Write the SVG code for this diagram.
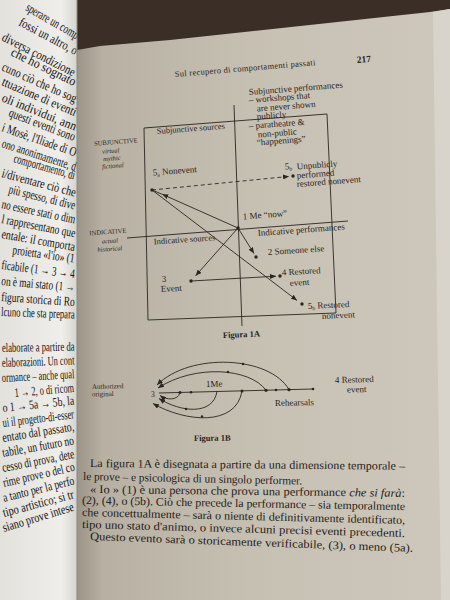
<svg xmlns="http://www.w3.org/2000/svg" width="450" height="600" viewBox="0 0 450 600">
<defs>
<linearGradient id="pg" x1="0" y1="0" x2="1" y2="0">
<stop offset="0" stop-color="#9c9587"/>
<stop offset="0.07" stop-color="#b8b1a3"/>
<stop offset="0.5" stop-color="#c7c1b4"/>
<stop offset="1" stop-color="#cec8bc"/>
</linearGradient>
<linearGradient id="lp" x1="0" y1="0" x2="1" y2="0">
<stop offset="0" stop-color="#e2e1dc"/>
<stop offset="0.8" stop-color="#efeeea"/>
<stop offset="1" stop-color="#d6d4ce"/>
</linearGradient>
<marker id="ah" viewBox="0 0 6 5" refX="6" refY="2.5" markerWidth="6" markerHeight="5" markerUnits="userSpaceOnUse" orient="auto"><path d="M0,0 L6,2.5 L0,5 z" fill="#2a2520"/></marker>
<marker id="am" viewBox="0 0 6 5" refX="3" refY="2.5" markerWidth="6" markerHeight="5" markerUnits="userSpaceOnUse" orient="auto"><path d="M0,0 L6,2.5 L0,5 z" fill="#2a2520"/></marker>
</defs>
<style>
.ln{stroke:#2a2520;stroke-width:0.9;fill:none}
.dot{fill:#2a2520}
.lab{font-family:"Liberation Serif",serif;font-size:9px;fill:#2a2520}
.sm{font-size:6.5px}
.it{font-style:italic}
.cap{font-weight:bold;font-size:8.5px}
.body{font-family:"Liberation Serif",serif;font-size:11.5px;fill:#1f1b18}
.lt{font-family:"Liberation Serif",serif;font-size:13px;fill:#141210}
</style>

<!-- background -->
<rect x="77" y="0" width="373" height="600" fill="url(#pg)"/>
<polygon points="77,0 450,0 450,9 430,12 170,40 100,46 77,50" fill="#3a2e26"/>
<polygon points="433,12 450,9 450,600 441,600" fill="#d9d4cb"/>
<rect x="0" y="0" width="77" height="600" fill="url(#lp)"/>

<!-- left page text (cut by the spine) -->
<g id="left-page" class="lt">
<text transform="translate(25,10) rotate(30) scale(0.62,1)" textLength="95" lengthAdjust="spacingAndGlyphs">sperare un comp</text>
<text transform="translate(18,25) rotate(28) scale(0.62,1)" textLength="104" lengthAdjust="spacingAndGlyphs">fossi un altro, o</text>
<text transform="translate(1,40) rotate(27) scale(0.62,1)" textLength="130" lengthAdjust="spacingAndGlyphs">diversa condizione</text>
<text transform="translate(10,55) rotate(26) scale(0.62,1)" textLength="114" lengthAdjust="spacingAndGlyphs">che ho sognato</text>
<text transform="translate(1,70) rotate(24) scale(0.62,1)" textLength="130" lengthAdjust="spacingAndGlyphs">cuno ciò che ho sog</text>
<text transform="translate(1,85) rotate(23) scale(0.62,1)" textLength="129" lengthAdjust="spacingAndGlyphs">ttuazione di eventi</text>
<text transform="translate(1,101) rotate(22) scale(0.62,1)" textLength="128" lengthAdjust="spacingAndGlyphs">oli individui, ann</text>
<text transform="translate(8,116) rotate(21) scale(0.62,1)" textLength="113" lengthAdjust="spacingAndGlyphs">questi eventi sono</text>
<text transform="translate(1,131) rotate(19) scale(0.62,1)" textLength="126" lengthAdjust="spacingAndGlyphs">i Mosè, l'Iliade di O</text>
<text transform="translate(1,147) rotate(18) scale(0.62,1)" textLength="125" lengthAdjust="spacingAndGlyphs">ono anonimamente, d</text>
<text transform="translate(13,162) rotate(16) scale(0.62,1)" textLength="102" lengthAdjust="spacingAndGlyphs">comportamento, di</text>
<text transform="translate(1,177) rotate(15) scale(0.62,1)" textLength="123" lengthAdjust="spacingAndGlyphs">i/diventare ciò che</text>
<text transform="translate(8,193) rotate(14) scale(0.62,1)" textLength="110" lengthAdjust="spacingAndGlyphs">più spesso, di dive</text>
<text transform="translate(1,208) rotate(12) scale(0.62,1)" textLength="121" lengthAdjust="spacingAndGlyphs">no essere stati o dim</text>
<text transform="translate(1,223) rotate(11) scale(0.62,1)" textLength="121" lengthAdjust="spacingAndGlyphs">l rappresentano que</text>
<text transform="translate(1,238) rotate(10) scale(0.62,1)" textLength="120" lengthAdjust="spacingAndGlyphs">entale: il comporta</text>
<text transform="translate(12,254) rotate(8) scale(0.62,1)" textLength="101" lengthAdjust="spacingAndGlyphs">proietta «l'io» (1</text>
<text transform="translate(1,269) rotate(7) scale(0.62,1)" textLength="119" lengthAdjust="spacingAndGlyphs">ficabile (1 → 3 → 4</text>
<text transform="translate(1,285) rotate(5) scale(0.62,1)" textLength="119" lengthAdjust="spacingAndGlyphs">on è mai stato (1 →</text>
<text transform="translate(1,301) rotate(4) scale(0.62,1)" textLength="119" lengthAdjust="spacingAndGlyphs">figura storica di Ro</text>
<text transform="translate(1,316) rotate(2) scale(0.62,1)" textLength="119" lengthAdjust="spacingAndGlyphs">lcuno che sta prepara</text>
<text transform="translate(2,352) rotate(-1) scale(0.62,1)" textLength="117" lengthAdjust="spacingAndGlyphs">elaborate a partire da</text>
<text transform="translate(2,367) rotate(-2) scale(0.62,1)" textLength="117" lengthAdjust="spacingAndGlyphs">elaborazioni. Un cont</text>
<text transform="translate(2,382) rotate(-3) scale(0.62,1)" textLength="117" lengthAdjust="spacingAndGlyphs">ormance – anche qual</text>
<text transform="translate(15,397) rotate(-5) scale(0.62,1)" textLength="96" lengthAdjust="spacingAndGlyphs">1 → 2, o di ricom</text>
<text transform="translate(3,412) rotate(-6) scale(0.62,1)" textLength="116" lengthAdjust="spacingAndGlyphs">o 1 → 5a → 5b, la</text>
<text transform="translate(3,427) rotate(-7) scale(0.62,1)" textLength="116" lengthAdjust="spacingAndGlyphs">ui il progetto-di-esser</text>
<text transform="translate(3,442) rotate(-9) scale(0.62,1)" textLength="117" lengthAdjust="spacingAndGlyphs">entato dal passato,</text>
<text transform="translate(3,457) rotate(-10) scale(0.62,1)" textLength="117" lengthAdjust="spacingAndGlyphs">tabile, un futuro no</text>
<text transform="translate(3,472) rotate(-11) scale(0.62,1)" textLength="118" lengthAdjust="spacingAndGlyphs">cesso di prova, dete</text>
<text transform="translate(4,487) rotate(-13) scale(0.62,1)" textLength="118" lengthAdjust="spacingAndGlyphs">rime prove o del co</text>
<text transform="translate(4,502) rotate(-14) scale(0.62,1)" textLength="118" lengthAdjust="spacingAndGlyphs">a tanto per la perfo</text>
<text transform="translate(4,517) rotate(-15) scale(0.62,1)" textLength="118" lengthAdjust="spacingAndGlyphs">tipo artistico; si tr</text>
<text transform="translate(4,532) rotate(-17) scale(0.62,1)" textLength="119" lengthAdjust="spacingAndGlyphs">siano prove intese</text>
</g>
<line x1="77" y1="0" x2="77" y2="600" stroke="#8d887f" stroke-width="1"/>

<!-- running head -->
<g id="header" class="lab">
<text x="175" y="77" font-size="8.5" transform="rotate(-4.8 175 77)" textLength="141">Sul recupero di comportamenti passati</text>
<text x="357" y="63" font-weight="bold" font-size="9.5" transform="rotate(-4.8 357 63)">217</text>
</g>

<!-- Figure 1A frame -->
<g id="fig1a-frame" class="ln">
<polygon points="144,128 327,114 336,313 148,320"/>
<line x1="234" y1="105" x2="242" y2="326"/>
<line x1="127" y1="238" x2="348" y2="221"/>
</g>

<!-- connectors -->
<g id="connectors" class="ln">
<path d="M238,228 L165,195.5 L152,190" marker-mid="url(#am)"/>
<line x1="152" y1="190" x2="297" y2="300.4" marker-end="url(#ah)"/>
<line x1="152" y1="190" x2="289" y2="176.4" stroke-dasharray="4,3" marker-end="url(#ah)"/>
<line x1="238" y1="228" x2="254" y2="253.5" marker-end="url(#ah)"/>
<line x1="238" y1="228" x2="195.6" y2="275.8" marker-end="url(#ah)"/>
<line x1="191" y1="281" x2="276" y2="276.2" marker-end="url(#ah)"/>
<!-- Figure 1B -->
<line x1="159" y1="393" x2="313" y2="389"/>
<path d="M289,389.7 C270,356 190,352 157,385" marker-end="url(#ah)"/>
<path d="M266,390.3 C250,368 195,364 158,388" marker-end="url(#ah)"/>
<path d="M180,392.5 C178,401 166,400 160,395.5" marker-end="url(#ah)"/>
<path d="M217,391.5 C213,416 180,412 159,398.5" marker-end="url(#ah)"/>
<path d="M242,391 C236,427 185,422 153,403.5" marker-end="url(#ah)"/>
</g>

<!-- Figure 1A nodes -->
<g id="subjunctive-axis" class="lab sm">
<text x="116" y="144" text-anchor="middle" transform="rotate(-4.4 116 144)">SUBJUNCTIVE</text>
<text x="111" y="153" text-anchor="middle" class="it" transform="rotate(-4.4 111 153)">virtual</text>
<text x="112" y="160.5" text-anchor="middle" class="it" transform="rotate(-4.4 112 160.5)">mythic</text>
<text x="113" y="168" text-anchor="middle" class="it" transform="rotate(-4.4 113 168)">fictional</text>
</g>
<g id="indicative-axis" class="lab sm">
<text x="108" y="234" text-anchor="middle" transform="rotate(-4 108 234)">INDICATIVE</text>
<text x="110" y="243" text-anchor="middle" class="it" transform="rotate(-4 110 243)">actual</text>
<text x="110" y="251" text-anchor="middle" class="it" transform="rotate(-4 110 251)">historical</text>
</g>
<g id="subjunctive-performances" class="lab">
<text x="249" y="95" transform="rotate(-4.5 249 95)">Subjunctive performances</text>
<text x="249" y="103" transform="rotate(-4.5 249 103)">– workshops that</text>
<text x="257" y="111.5" transform="rotate(-4.5 257 111.5)">are never shown</text>
<text x="257" y="119.5" transform="rotate(-4.5 257 119.5)">publicly</text>
<text x="249" y="129" transform="rotate(-4.5 249 129)">– paratheatre &amp;</text>
<text x="258" y="137.5" transform="rotate(-4.5 258 137.5)">non-public</text>
<text x="257" y="145.5" transform="rotate(-4.5 257 145.5)">“happenings”</text>
</g>
<g id="subjunctive-sources" class="lab">
<text x="157" y="134" font-size="8.5" transform="rotate(-4.4 157 134)">Subjunctive sources</text>
</g>
<g id="indicative-sources" class="lab">
<text x="154" y="244.5" font-size="8.5" transform="rotate(-4 154 244.5)">Indicative sources</text>
</g>
<g id="indicative-performances" class="lab">
<text x="258" y="236" transform="rotate(-4.2 258 236)">Indicative performances</text>
</g>
<g id="node-5a" class="lab">
<circle class="dot" cx="152" cy="190" r="1.7"/>
<text x="153" y="175.5" transform="rotate(-4.4 153 175.5)">5<tspan font-size="5.5" dy="1.5">a</tspan><tspan dy="-1.5"> Nonevent</tspan></text>
</g>
<g id="node-5b-unpublic" class="lab">
<circle class="dot" cx="293" cy="176" r="1.7"/>
<text x="285" y="169.5" transform="rotate(-4.4 285 169.5)">5<tspan font-size="5.5" dy="1.5">b</tspan></text>
<text x="297" y="169.5" transform="rotate(-4.4 297 169.5)">Unpublicly</text>
<text x="297" y="178.5" transform="rotate(-4.4 297 178.5)">performed</text>
<text x="297" y="187" transform="rotate(-4.4 297 187)">restored nonevent</text>
</g>
<g id="node-1" class="lab">
<circle class="dot" cx="238" cy="228" r="1.8"/>
<text x="243" y="219.5" transform="rotate(-4.4 243 219.5)">1 Me “now”</text>
</g>
<g id="node-2" class="lab">
<circle class="dot" cx="256" cy="257" r="1.7"/>
<text x="268" y="255" transform="rotate(-3.8 268 255)">2 Someone else</text>
</g>
<g id="node-3" class="lab">
<circle class="dot" cx="191" cy="281" r="1.7"/>
<text x="162" y="282" transform="rotate(-3.3 162 282)">3</text>
<text x="161" y="292" transform="rotate(-3.3 161 292)">Event</text>
</g>
<g id="node-4" class="lab">
<circle class="dot" cx="280" cy="276" r="1.7"/>
<text x="282" y="275.5" transform="rotate(-3.5 282 275.5)">4 Restored</text>
<text x="290" y="286" transform="rotate(-3.5 290 286)">event</text>
</g>
<g id="node-5b-restored" class="lab">
<circle class="dot" cx="302" cy="304" r="1.7"/>
<text x="308" y="309" transform="rotate(-2.8 308 309)">5<tspan font-size="5.5" dy="1.5">b</tspan><tspan dy="-1.5"> Restored</tspan></text>
<text x="322" y="319" transform="rotate(-2.8 322 319)">nonevent</text>
</g>
<g id="caption-1a" class="lab">
<text x="223" y="338" class="cap" transform="rotate(-2.3 223 338)">Figura 1A</text>
</g>

<!-- Figure 1B nodes -->
<g id="fig1b-authorized" class="lab">
<text x="92" y="389" font-size="7" transform="rotate(-1.5 92 389)">Authorized</text>
<text x="92" y="396.5" font-size="7" transform="rotate(-1.5 92 396.5)">original</text>
</g>
<g id="fig1b-3" class="lab"><text x="151" y="397" font-size="7.5">3</text></g>
<g id="fig1b-dots" class="dot">
<circle cx="180" cy="392.5" r="1.5"/>
<circle cx="191" cy="392.2" r="1.3"/>
<circle cx="242" cy="391" r="1.5"/>
<circle cx="266" cy="390.3" r="1.6"/>
<circle cx="276" cy="390" r="1.3"/>
<circle cx="289" cy="389.7" r="1.6"/>
<circle cx="313" cy="389" r="1.3"/>
<circle cx="243" cy="364" r="1.2"/>
<circle cx="228" cy="372" r="1.2"/>
<circle cx="186" cy="409" r="1.2"/>
<circle cx="202" cy="416.5" r="1.2"/>
</g>
<g id="fig1b-1me" class="lab"><text x="206" y="387" transform="rotate(-1.5 206 387)">1Me</text></g>
<g id="fig1b-rehearsals" class="lab"><text x="275" y="406" transform="rotate(-1.3 275 406)">Rehearsals</text></g>
<g id="fig1b-4" class="lab">
<text x="335" y="383" transform="rotate(-1.5 335 383)">4 Restored</text>
<text x="347" y="392.5" transform="rotate(-1.5 347 392.5)">event</text>
</g>
<g id="caption-1b" class="lab"><text x="194" y="441" class="cap" transform="rotate(-0.5 194 441)">Figura 1B</text></g>

<!-- body text -->
<g id="body-text" class="body">
<text x="90" y="467" textLength="315" lengthAdjust="spacingAndGlyphs" transform="rotate(0.5 90 467)">La figura 1A è disegnata a partire da una dimensione temporale –</text>
<text x="83" y="480" textLength="219" lengthAdjust="spacingAndGlyphs" transform="rotate(1.2 83 480)">le prove – e psicologica di un singolo performer.</text>
<text x="90" y="493" textLength="315" lengthAdjust="spacingAndGlyphs" transform="rotate(0.7 90 493)">« Io » (1) è una persona che prova una performance <tspan class="it">che si farà</tspan>:</text>
<text x="82" y="504" textLength="323" lengthAdjust="spacingAndGlyphs" transform="rotate(1.1 82 504)">(2), (4), o (5b). Ciò che precede la performance – sia temporalmente</text>
<text x="82" y="516" textLength="323" lengthAdjust="spacingAndGlyphs" transform="rotate(1.4 82 516)">che concettualmente – sarà o niente di definitivamente identificato,</text>
<text x="82" y="528" textLength="323" lengthAdjust="spacingAndGlyphs" transform="rotate(1.6 82 528)">tipo uno stato d'animo, o invece alcuni precisi eventi precedenti.</text>
<text x="90" y="540" textLength="323" lengthAdjust="spacingAndGlyphs" transform="rotate(2.1 90 540)">Questo evento sarà o storicamente verificabile, (3), o meno (5a).</text>
</g>
</svg>
